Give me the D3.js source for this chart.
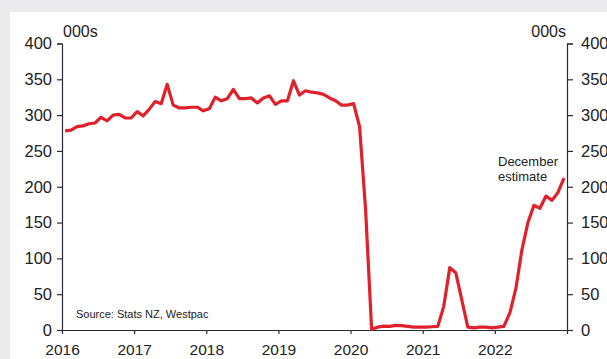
<!DOCTYPE html>
<html>
<head>
<meta charset="utf-8">
<script src="https://cdn.jsdelivr.net/npm/d3@7"></script>
<style>
  html, body { margin: 0; padding: 0; background: #ebebed; }
  svg { display: block; font-family: "Liberation Sans", Arial, sans-serif; }
</style>
</head>
<body>
<script>
// Monthly visitor arrivals, 000s (Jan..Dec each year); Dec 2022 is an estimate
const arrivals2016 = [278, 279, 284, 285, 288, 289, 297, 292, 300, 301, 296, 296];
const arrivals2017 = [305, 299, 308, 319, 316, 343, 314, 310, 310, 311, 311, 306];
const arrivals2018 = [309, 325, 320, 323, 336, 323, 323, 324, 317, 324, 327, 315];
const arrivals2019 = [320, 320, 348, 328, 334, 332, 331, 329, 324, 320, 314, 314];
const arrivals2020 = [316, 284, 168, 1, 4, 5.5, 5, 6.5, 6, 5, 4, 4];
const arrivals2021 = [4, 4.5, 5, 33, 87, 80, 42, 4, 3, 4, 4, 3];
const arrivals2022 = [4, 5, 24, 58, 112, 150, 174, 170, 187, 181, 192, 212];
const years = [2016, 2017, 2018, 2019, 2020, 2021, 2022];
const yearTicks = [2016, 2017, 2018, 2019, 2020, 2021, 2022, 2023];
const yearLabels = ["2016", "2017", "2018", "2019", "2020", "2021", "2022", ""];
const valueTicks = [0, 50, 100, 150, 200, 250, 300, 350, 400];

const width = 607;
const height = 359;
const margin = { top: 43.5, right: 40, bottom: 29, left: 62 };

const series = [arrivals2016, arrivals2017, arrivals2018, arrivals2019, arrivals2020, arrivals2021, arrivals2022]
  .flatMap((values, i) => values.map((v, m) => ({ t: years[i] + (m + 0.5) / 12, v })));

const svg = d3.select("body").append("svg").attr("width", width).attr("height", height);

svg.append("rect").attr("x", 10).attr("y", 12).attr("width", width - 10).attr("height", height - 12).attr("fill", "#ffffff");

const x = d3.scaleLinear().domain([2016, 2023]).range([margin.left, width - margin.right]);
const y = d3.scaleLinear().domain([0, 400]).range([height - margin.bottom, margin.top]);

const axisColor = "#2a2a36";
const textColor = "#222222";

function styleAxis(g, fontSize) {
  g.select(".domain").attr("stroke", axisColor).attr("stroke-width", 1.2);
  g.selectAll(".tick line").attr("stroke", axisColor).attr("stroke-width", 1.2);
  g.selectAll(".tick text").attr("fill", textColor).attr("font-size", fontSize).attr("font-family", "Liberation Sans, Arial, sans-serif");
}

svg.append("g")
  .attr("transform", `translate(${margin.left},0)`)
  .call(d3.axisLeft(y).tickValues(valueTicks).tickSize(5).tickPadding(5).tickSizeOuter(5))
  .call((g) => styleAxis(g, 16.5));

svg.append("g")
  .attr("transform", `translate(${width - margin.right},0)`)
  .call(d3.axisRight(y).tickValues(valueTicks).tickSize(6).tickPadding(8).tickSizeOuter(6))
  .call((g) => styleAxis(g, 16.5));

svg.append("g")
  .attr("transform", `translate(0,${height - margin.bottom})`)
  .call(d3.axisBottom(x).tickValues(yearTicks).tickFormat((d, i) => yearLabels[i]).tickSize(4).tickPadding(10).tickSizeOuter(0))
  .call((g) => styleAxis(g, 15.5));

svg.append("text").attr("x", margin.left + 1).attr("y", 37).attr("font-size", 16).attr("fill", textColor).text("000s");
svg.append("text").attr("x", width - margin.right - 1).attr("y", 37).attr("text-anchor", "end").attr("font-size", 16).attr("fill", textColor).text("000s");

const line = d3.line().x((d) => x(d.t)).y((d) => y(d.v));
svg.append("path")
  .datum(series)
  .attr("d", line)
  .attr("fill", "none")
  .attr("stroke", "#e0212b")
  .attr("stroke-width", 3.2)
  .attr("stroke-linejoin", "round");

svg.append("text").attr("x", 76).attr("y", 318).attr("font-size", 11).attr("fill", textColor).text("Source: Stats NZ, Westpac");

const note = svg.append("text").attr("font-size", 13).attr("fill", textColor);
note.append("tspan").attr("x", 498).attr("y", 166).text("December");
note.append("tspan").attr("x", 498).attr("y", 181).text("estimate");
</script>
</body>
</html>
